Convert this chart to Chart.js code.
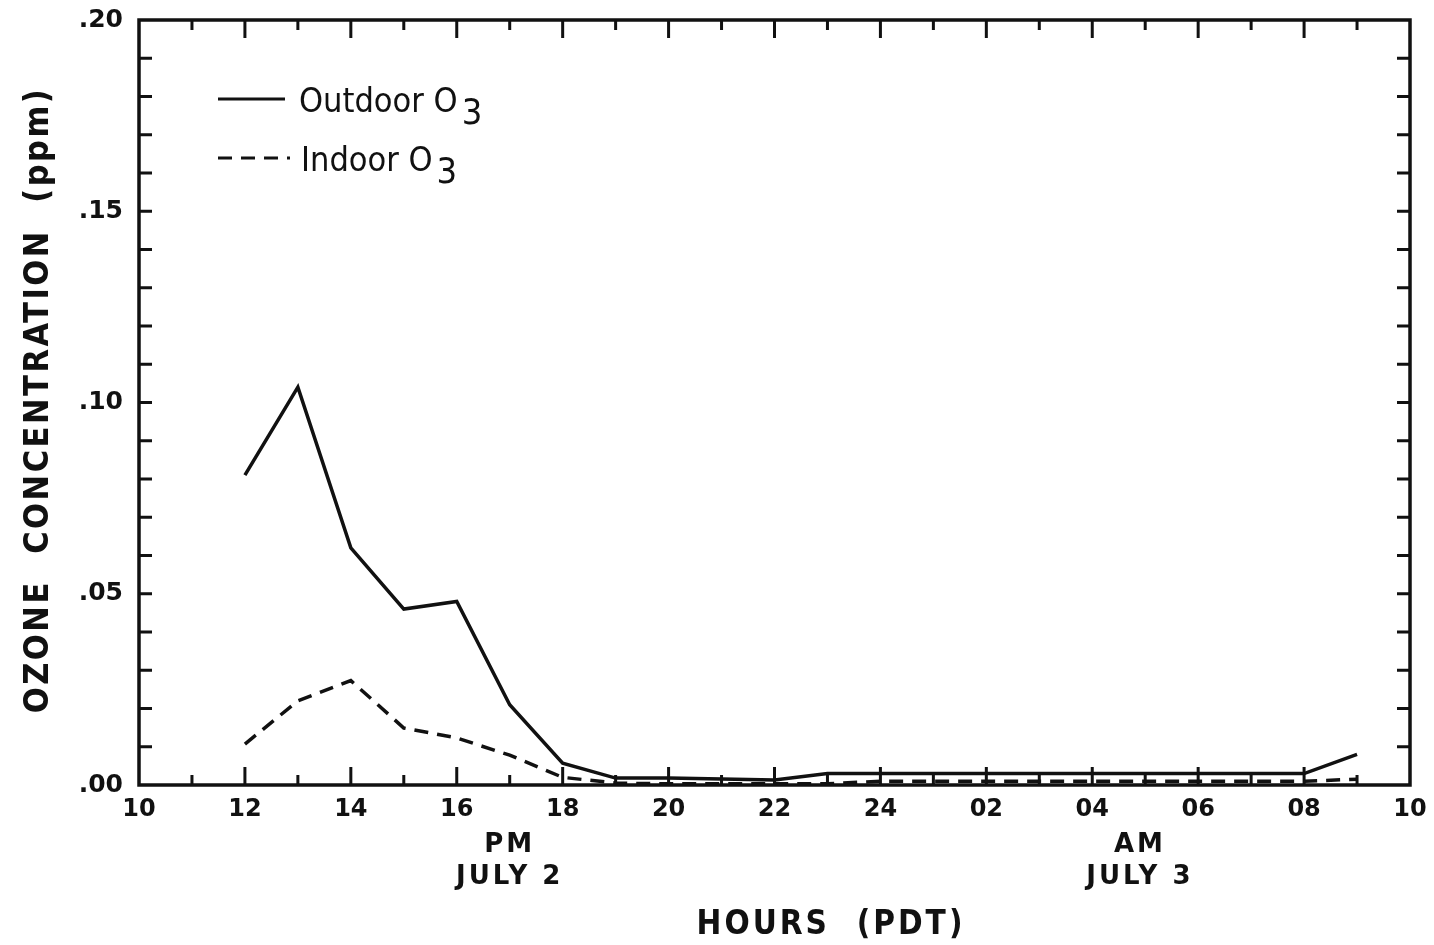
<!DOCTYPE html>
<html lang="en">
<head>
    <meta charset="UTF-8">
    <title>Ozone concentration</title>
    <style>
        html, body { margin: 0; padding: 0; background: #fff; }
        #wrap { width: 1434px; height: 945px; }
    </style>
</head>
<body>
    <div id="wrap">
        <canvas id="myChart" width="1434" height="945"></canvas>
    </div>

    <script src="https://cdn.jsdelivr.net/npm/chart.js@4.4.0/dist/chart.umd.min.js"></script>
    <script>
// hours from 10:00 July 2 (10 = 10 PDT, 24 = midnight, 34 = 10 AM July 3)
var hours = [12, 13, 14, 15, 16, 17, 18, 19, 20, 21, 22, 23, 24, 25, 26, 27, 28, 29, 30, 31, 32, 33];
var outdoorO3 = [0.081, 0.104, 0.062, 0.046, 0.048, 0.021, 0.0057, 0.0018, 0.0018, 0.0016, 0.0013, 0.003,
                 0.003, 0.003, 0.003, 0.003, 0.003, 0.003, 0.003, 0.003, 0.003, 0.008];
var indoorO3 = [0.0107, 0.022, 0.0273, 0.0149, 0.0123, 0.0078, 0.002, 0.0005, 0.0003, 0.0003, 0.0003, 0.0003,
                0.001, 0.001, 0.001, 0.001, 0.001, 0.001, 0.001, 0.001, 0.001, 0.0015];
var hourLabels = ['10', '12', '14', '16', '18', '20', '22', '24', '02', '04', '06', '08', '10'];
var yLabels = ['.00', '.05', '.10', '.15', '.20'];

var ink = '#111';
var sans = '"DejaVu Sans", sans-serif';
var narrow = '"DejaVu Sans Condensed", "DejaVu Sans", sans-serif';

function toPoints(vals) {
    return hours.map(function (h, i) { return { x: h, y: vals[i] }; });
}

// frame, inward ticks, legend and the text under the axis
var decor = {
    id: 'decor',
    afterDraw: function (chart) {
        var ctx = chart.ctx;
        var a = chart.chartArea;
        var xs = chart.scales.x, ys = chart.scales.y;
        ctx.save();
        ctx.strokeStyle = ink;
        ctx.fillStyle = ink;
        ctx.lineCap = 'butt';

        // ticks
        ctx.lineWidth = 3;
        ctx.beginPath();
        for (var h = 11; h < 34; h++) {
            var px = xs.getPixelForValue(h);
            var len = (h % 2 === 0) ? 18 : 10;
            ctx.moveTo(px, a.bottom); ctx.lineTo(px, a.bottom - len);
            ctx.moveTo(px, a.top); ctx.lineTo(px, a.top + len);
        }
        for (var k = 1; k < 20; k++) {
            var py = ys.getPixelForValue(k / 100);
            ctx.moveTo(a.left, py); ctx.lineTo(a.left + 13, py);
            ctx.moveTo(a.right, py); ctx.lineTo(a.right - 13, py);
        }
        ctx.stroke();

        // frame
        ctx.lineWidth = 3.5;
        ctx.strokeRect(a.left, a.top, a.right - a.left, a.bottom - a.top);

        // legend
        ctx.lineWidth = 3;
        ctx.beginPath();
        ctx.moveTo(218, 99); ctx.lineTo(285, 99);
        ctx.stroke();
        ctx.setLineDash([14, 9]);
        ctx.beginPath();
        ctx.moveTo(218, 158); ctx.lineTo(290, 158);
        ctx.stroke();
        ctx.setLineDash([]);

        ctx.textBaseline = 'alphabetic';
        ctx.textAlign = 'left';
        ctx.font = '34px ' + narrow;
        var w = ctx.measureText('Outdoor O').width;
        ctx.fillText('Outdoor O', 299, 112);
        ctx.font = '36px ' + narrow;
        ctx.fillText('3', 299 + w + 4, 124);
        ctx.font = '34px ' + narrow;
        w = ctx.measureText('Indoor O').width;
        ctx.fillText('Indoor O', 301, 171);
        ctx.font = '36px ' + narrow;
        ctx.fillText('3', 301 + w + 4, 183);

        // PM / AM captions
        ctx.textAlign = 'center';
        ctx.font = 'bold 26px ' + sans;
        ctx.letterSpacing = '3px';
        var pmX = xs.getPixelForValue(17);
        var amX = xs.getPixelForValue(28.9);
        ctx.fillText('PM', pmX, 852);
        ctx.fillText('JULY 2', pmX, 884);
        ctx.fillText('AM', amX, 852);
        ctx.fillText('JULY 3', amX, 884);

        // axis titles
        ctx.font = 'bold 33px ' + narrow;
        ctx.letterSpacing = '3px';
        ctx.fillText('HOURS  (PDT)', 831, 934);

        ctx.translate(48, 400);
        ctx.rotate(-Math.PI / 2);
        ctx.font = 'bold 34px ' + narrow;
        ctx.letterSpacing = '2.5px';
        ctx.fillText('OZONE  CONCENTRATION  (ppm)', 0, 0);
        ctx.restore();
    }
};

var ctx = document.getElementById('myChart').getContext('2d');
var myChart = new Chart(ctx, {
    type: 'line',
    data: {
        datasets: [
            {
                label: 'Outdoor O3',
                data: toPoints(outdoorO3),
                borderColor: ink,
                borderWidth: 3.5,
                pointRadius: 0,
                tension: 0
            },
            {
                label: 'Indoor O3',
                data: toPoints(indoorO3),
                borderColor: ink,
                borderWidth: 3.5,
                borderDash: [14, 9],
                pointRadius: 0,
                tension: 0
            }
        ]
    },
    options: {
        responsive: false,
        animation: false,
        devicePixelRatio: 1,
        layout: { padding: { top: 20, right: 24, left: 0, bottom: 0 } },
        plugins: {
            legend: { display: false },
            tooltip: { enabled: false }
        },
        scales: {
            x: {
                type: 'linear',
                min: 10,
                max: 34,
                afterFit: function (s) {
                    s.height = 160;
                    s.paddingLeft = 0;
                    s.paddingRight = 0;
                },
                grid: { display: false, drawTicks: false },
                border: { display: false },
                ticks: {
                    stepSize: 2,
                    padding: 10,
                    color: ink,
                    font: { family: sans, size: 24, weight: 'bold' },
                    maxRotation: 0,
                    autoSkip: false,
                    callback: function (v) {
                        var i = Math.round((v - 10) / 2);
                        return hourLabels[i];
                    }
                }
            },
            y: {
                min: 0,
                max: 0.2,
                afterFit: function (s) {
                    s.width = 139;
                    s.paddingTop = 0;
                    s.paddingBottom = 0;
                },
                grid: { display: false, drawTicks: false },
                border: { display: false },
                ticks: {
                    stepSize: 0.05,
                    padding: 16,
                    color: ink,
                    font: { family: sans, size: 25, weight: 'bold' },
                    callback: function (v) {
                        return yLabels[Math.round(v / 0.05)];
                    }
                }
            }
        }
    },
    plugins: [decor]
});
    </script>
</body>
</html>
